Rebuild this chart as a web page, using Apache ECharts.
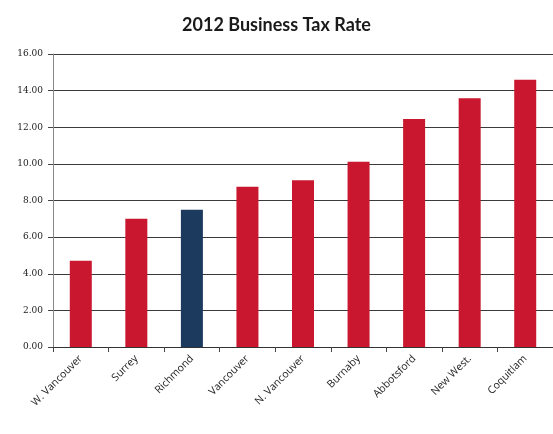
<!DOCTYPE html>
<html><head><meta charset="utf-8">
<script src="https://cdn.jsdelivr.net/npm/echarts@6/dist/echarts.min.js"></script>
<style>html,body{margin:0;padding:0;background:#fff}#c{width:553px;height:434px}</style>
</head><body><div id="c"></div>
<script>
const categories = ["W. Vancouver","Surrey","Richmond","Vancouver","N. Vancouver","Burnaby","Abbotsford","New West.","Coquitlam"];
const taxRates = [4.71, 7.00, 7.49, 8.75, 9.11, 10.12, 12.45, 13.59, 14.59];
const highlightCity = "Richmond";
const RED = "#c8172e", BLUE = "#1b3a5e";
const chart = echarts.init(document.getElementById('c'));
chart.setOption({
  animation: false,
  title: {text: "2012 Business Tax Rate", left: 'center', top: 11,
    textStyle: {fontFamily: "Lato", fontSize: 18, fontWeight: 'bold', color: '#1a1a1a'}},
  grid: {left: 53, right: 0, top: 54, bottom: 87},
  xAxis: {type: 'category', data: categories,
    axisLine: {lineStyle: {color: '#333', width: 1}},
    axisTick: {show: true, length: 5, lineStyle: {color: '#444'}},
    axisLabel: {rotate: 45, fontFamily: "Open Sans", fontSize: 10.5, color: '#222', margin: 10, interval: 0}},
  yAxis: {type: 'value', min: 0, max: 16, interval: 2,
    axisLine: {show: true, lineStyle: {color: '#888'}},
    axisTick: {show: true, length: 5, lineStyle: {color: '#444'}},
    splitLine: {lineStyle: {color: '#3a3a3a', width: 1}},
    axisLabel: {formatter: v => v.toFixed(2), fontFamily: "DejaVu Serif", fontSize: 9, color: '#222', margin: 10}},
  series: [{type: 'bar', barWidth: 22,
    data: taxRates.map((v, i) => ({value: v, itemStyle: {color: categories[i] === highlightCity ? BLUE : RED}}))}]
});
</script></body></html>
